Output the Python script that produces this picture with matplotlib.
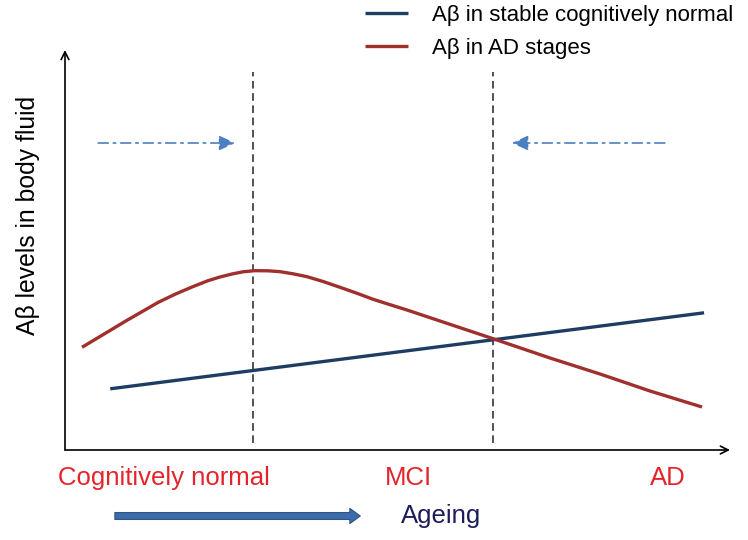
import numpy as np
import matplotlib
matplotlib.use('Agg')
import matplotlib.pyplot as plt

plt.rcParams['font.family'] = ['Liberation Sans', 'DejaVu Sans']

# Curves (ageing axis 0-10, level axis 0-10)
red_x = [0.256, 0.451, 0.647, 0.902, 1.158, 1.398, 1.654, 1.910, 2.150, 2.331, 2.511, 2.677,
         2.857, 3.053, 3.233, 3.429, 3.639, 3.880, 4.135, 4.391, 4.632, 4.887, 5.143, 5.639,
         6.045, 6.451, 7.293, 8.045, 8.797, 9.579]
red_y = [2.568, 2.763, 2.958, 3.213, 3.458, 3.688, 3.893, 4.075, 4.233, 4.325, 4.400, 4.455,
         4.483, 4.480, 4.458, 4.405, 4.333, 4.213, 4.068, 3.918, 3.768, 3.633, 3.500, 3.225,
         3.000, 2.775, 2.300, 1.900, 1.475, 1.075]
blue_x = [0.68, 9.61]
blue_y = [1.53, 3.43]

# Stage boundaries and stage labels
stage_lines = [2.83, 6.44]
stage_names = ['Cognitively normal', 'MCI', 'AD']
stage_pos = [1.49, 5.16, 9.07]

navy = '#1f3d63'
darkred = '#a0302e'
arrow_blue = '#4a7fc0'

fig = plt.figure(figsize=(7.48, 5.40), dpi=100)
ax = fig.add_axes([65 / 748, 90 / 540, 665 / 748, 400 / 540])
ax.set_xlim(0, 10)
ax.set_ylim(0, 10)
ax.set_axis_off()

# axes with arrow heads
ax.annotate('', xy=(0, 10), xytext=(0, 0),
            arrowprops=dict(arrowstyle='->', color='black', lw=1.2, shrinkA=0, shrinkB=0,
                            mutation_scale=14))
ax.annotate('', xy=(10, 0), xytext=(0, 0),
            arrowprops=dict(arrowstyle='->', color='black', lw=1.2, shrinkA=0, shrinkB=0,
                            mutation_scale=14))

# vertical dashed stage lines
for x in stage_lines:
    ax.plot([x, x], [0.175, 9.45], color='#222222', lw=1.1, ls=(0, (5, 3)))

# curves
ax.plot(blue_x, blue_y, color=navy, lw=2.4, solid_capstyle='butt',
        label='A\u03b2 in stable cognitively normal')
ax.plot(red_x, red_y, color=darkred, lw=2.4, solid_capstyle='butt', solid_joinstyle='round',
        label='A\u03b2 in AD stages')

# dash-dot arrows pointing to the boundaries
head = '-|>,head_length=0.7,head_width=0.32'
ax.annotate('', xy=(2.56, 7.675), xytext=(0.50, 7.675),
            arrowprops=dict(arrowstyle=head, color=arrow_blue, lw=1.2, ls=(0, (6, 3, 1.5, 3)),
                            shrinkA=0, shrinkB=0, mutation_scale=14))
ax.annotate('', xy=(6.72, 7.675), xytext=(9.02, 7.675),
            arrowprops=dict(arrowstyle=head, color=arrow_blue, lw=1.2, ls=(0, (6, 3, 1.5, 3)),
                            shrinkA=0, shrinkB=0, mutation_scale=14))

# stage labels
for name, x in zip(stage_names, stage_pos):
    ax.text(x, -0.70, name, color='#e3242b', fontsize=18.5, ha='center', va='center', clip_on=False)

# ageing arrow
ax.annotate('', xy=(4.44, -1.65), xytext=(0.75, -1.65), annotation_clip=False,
            arrowprops=dict(arrowstyle='simple,head_length=0.75,head_width=1.1,tail_width=0.5',
                            fc='#3b6ba8', ec='#2c5687', lw=0.8, shrinkA=0, shrinkB=0,
                            mutation_scale=10))
ax.text(5.65, -1.65, 'Ageing', color='#1c1c5c', fontsize=18.5, ha='center', va='center', clip_on=False)

# y label
ax.text(-0.56, 5.875, 'A\u03b2 levels in body fluid', rotation=90, fontsize=17.8,
        ha='center', va='center', clip_on=False)

fig.legend(loc='upper left', bbox_to_anchor=(365 / 748, 1 - 5 / 540), frameon=False,
           fontsize=16, handlelength=1.94, handletextpad=1.08, labelspacing=0.53,
           borderpad=0, borderaxespad=0)

fig.savefig('out.png', dpi=100)
